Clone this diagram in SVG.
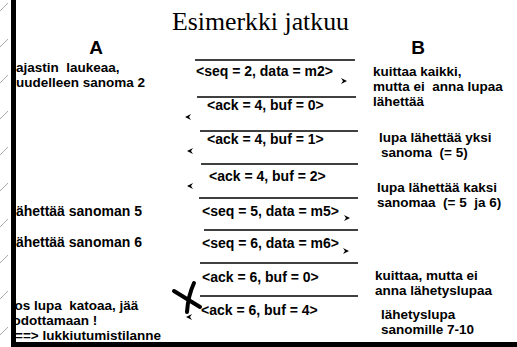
<svg xmlns="http://www.w3.org/2000/svg" width="517" height="347" viewBox="0 0 517 347">
<style>
.t{font-family:"Liberation Sans",Arial,sans-serif;font-weight:bold;font-size:14px;fill:#000;white-space:pre}
.n{font-size:13.5px}
.h{font-family:"Liberation Sans",Arial,sans-serif;font-weight:bold;font-size:19px;fill:#000}
.ln{stroke:#000;stroke-width:1.5;fill:none}
.hatch{stroke:#aaa;stroke-width:1;fill:none}
</style>
<defs>
<path id="ar" d="M0,0 L-6,-3 L-4,0 L-6,3 Z" fill="#000"/>
<path id="al" d="M0,0 L6,-3 L4,0 L6,3 Z" fill="#000"/>
<clipPath id="inner"><rect x="16" y="0" width="501" height="347"/></clipPath>
</defs>
<rect width="517" height="347" fill="#fff"/>
<g id="left-texts" clip-path="url(#inner)">
<text class="t n" x="16" y="72">ajastin  laukeaa,</text>
<text class="t n" x="16" y="87">uudelleen sanoma 2</text>
<text class="t" x="12" y="216">lähettää sanoman 5</text>
<text class="t" x="12" y="247">lähettää sanoman 6</text>
<text class="t n" x="7" y="310">Jos lupa  katoaa, jää</text>
<text class="t n" x="12.5" y="325">odottamaan !</text>
<text class="t n" x="15" y="340">==&gt; lukkiutumistilanne</text>
</g>
<g id="frame">
<rect x="11" y="0" width="5" height="347" fill="#000"/>
<rect x="11" y="342" width="506" height="5" fill="#000"/>
<g class="hatch">
<line x1="0" y1="11" x2="8" y2="3"/>
<line x1="0" y1="47" x2="8" y2="39"/>
<line x1="0" y1="83" x2="8" y2="75"/>
<line x1="0" y1="119" x2="8" y2="111"/>
<line x1="0" y1="155" x2="8" y2="147"/>
<line x1="0" y1="191" x2="8" y2="183"/>
<line x1="0" y1="227" x2="8" y2="219"/>
<line x1="0" y1="263" x2="8" y2="255"/>
<line x1="0" y1="299" x2="8" y2="291"/>
<line x1="0" y1="335" x2="8" y2="327"/>
</g>
</g>
<text id="title" x="172" y="30" font-family="'Liberation Serif','Times New Roman',serif" font-size="25.8">Esimerkki jatkuu</text>
<g id="A"><text class="h" x="96" y="54" text-anchor="middle">A</text></g>
<g id="B"><text class="h" x="418" y="54" text-anchor="middle">B</text></g>
<g id="connectors">
<line class="ln" x1="195" y1="60" x2="355" y2="60"/>
<text class="t" x="196" y="76">&lt;seq = 2, data = m2&gt;</text>
<use href="#ar" x="347" y="81"/>
<line class="ln" x1="197" y1="97" x2="356" y2="97"/>
<text class="t" x="207" y="110">&lt;ack = 4, buf = 0&gt;</text>
<use href="#al" x="185" y="117"/>
<line class="ln" x1="200" y1="131" x2="358" y2="131"/>
<text class="t" x="207" y="144">&lt;ack = 4, buf = 1&gt;</text>
<use href="#al" x="187" y="151"/>
<line class="ln" x1="201" y1="164" x2="358" y2="164"/>
<text class="t" x="209" y="181">&lt;ack = 4, buf = 2&gt;</text>
<use href="#al" x="187" y="186"/>
<line class="ln" x1="199" y1="198" x2="358" y2="198"/>
<text class="t" x="202" y="216">&lt;seq = 5, data = m5&gt;</text>
<use href="#ar" x="350" y="218"/>
<line class="ln" x1="204" y1="230" x2="358" y2="230"/>
<text class="t" x="202" y="248">&lt;seq = 6, data = m6&gt;</text>
<use href="#ar" x="349" y="251"/>
<line class="ln" x1="200" y1="263" x2="358" y2="263"/>
<text class="t" x="202" y="282">&lt;ack = 6, buf = 0&gt;</text>
<line class="ln" x1="200" y1="296" x2="358" y2="296"/>
<text class="t" x="201" y="315">&lt;ack = 6, buf = 4&gt;</text>
<use href="#al" x="186" y="317"/>
<path d="M174,291 L200,307 M194,283 Q188,296 187,312" stroke="#000" stroke-width="4" fill="none" stroke-linecap="round"/>
</g>
<g id="right-texts">
<text class="t n" x="373" y="76">kuittaa kaikki,</text>
<text class="t n" x="373" y="91">mutta ei  anna lupaa</text>
<text class="t n" x="373" y="106">lähettää</text>
<text class="t n" x="379" y="142">lupa lähettää yksi</text>
<text class="t n" x="381" y="157">sanoma  (= 5)</text>
<text class="t n" x="377" y="192">lupa lähettää kaksi</text>
<text class="t n" x="377" y="207">sanomaa  (= 5  ja 6)</text>
<text class="t n" x="375" y="280">kuittaa, mutta ei</text>
<text class="t n" x="375" y="295">anna lähetyslupaa</text>
<text class="t n" x="381" y="319">lähetyslupa</text>
<text class="t n" x="381" y="334">sanomille 7-10</text>
</g>
</svg>
